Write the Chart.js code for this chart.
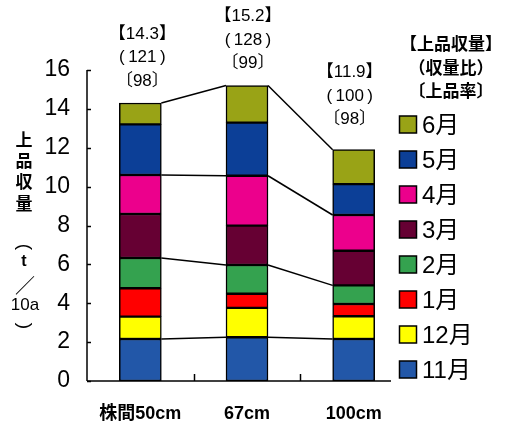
<!DOCTYPE html>
<html>
<head>
<meta charset="utf-8">
<script src="https://cdn.jsdelivr.net/npm/chart.js@4/dist/chart.umd.min.js"></script>
<style>
  html, body { margin: 0; padding: 0; background: #fff; }
  canvas { display: block; }
</style>
</head>
<body>
<canvas id="chart" width="508" height="425"></canvas>
<script>
// Plant spacing categories
const spacings = ['株間50cm', '67cm', '100cm'];

// Monthly top-grade yield (t/10a), stacked from November (bottom) to June (top)
const months = ['11月', '12月', '1月', '2月', '3月', '4月', '5月', '6月'];
const nov = [2.16, 2.25, 2.16];
const dec = [1.15, 1.51, 1.17];
const jan = [1.46, 0.73, 0.63];
const feb = [1.56, 1.48, 0.96];
const mar = [2.26, 2.02, 1.78];
const apr = [2.01, 2.57, 1.84];
const may = [2.60, 2.73, 1.59];
const jun = [1.10, 1.91, 1.77];

// Yield ratio (100 = 100cm spacing) and top-grade rate (%)
const yieldRatio = [121, 128, 100];
const topGradeRate = [98, 99, 98];

// Y axis ticks
const yTicks = [0, 2, 4, 6, 8, 10, 12, 14, 16];

// Cumulative levels joined between bars (top of 11月, 2月, 4月, 6月)
const joinedMonths = ['11月', '2月', '4月', '6月'];

const series = [nov, dec, jan, feb, mar, apr, may, jun];
const colors = ['#2257a8', '#ffff00', '#ff0000', '#34a24f', '#660033', '#ec008c', '#0c3f97', '#99a316'];

const SANS = '"Liberation Sans", "Noto Sans CJK JP", sans-serif';
const JP = '"Noto Sans CJK JP", sans-serif';

const datasets = months.map((m, i) => ({
  label: m,
  data: series[i],
  backgroundColor: colors[i],
  borderColor: '#000',
  borderWidth: 1.5,
  borderSkipped: false,
  barThickness: 42,
  stack: 's'
}));

// Lines joining stacked levels between neighbouring bars
const joinLines = {
  id: 'joinLines',
  afterDatasetsDraw(chart) {
    const ctx = chart.ctx;
    ctx.save();
    ctx.strokeStyle = '#000';
    ctx.lineWidth = 1.5;
    joinedMonths.forEach(m => {
      const idx = months.indexOf(m);
      const els = chart.getDatasetMeta(idx).data;
      for (let i = 0; i < els.length - 1; i++) {
        const a = els[i], b = els[i + 1];
        ctx.beginPath();
        ctx.moveTo(a.x + a.width / 2, a.y);
        ctx.lineTo(b.x - b.width / 2, b.y);
        ctx.stroke();
      }
    });
    ctx.restore();
  }
};

// Three-line annotation above each bar: 【total】 (ratio) 〔rate〕
const noteGap = 22;
const noteStep = 23.5;
const noteLift = [0, 0, 8];
const noteShift = [2, 1, -4];
const barNotes = {
  id: 'barNotes',
  afterDatasetsDraw(chart) {
    const ctx = chart.ctx;
    const yScale = chart.scales.y;
    const xScale = chart.scales.x;
    ctx.save();
    ctx.fillStyle = '#000';
    ctx.font = '17px ' + SANS;
    ctx.textAlign = 'center';
    ctx.textBaseline = 'middle';
    spacings.forEach((s, i) => {
      const total = series.reduce((acc, arr) => acc + arr[i], 0);
      const x = xScale.getPixelForValue(i) + noteShift[i];
      const yBottom = yScale.getPixelForValue(total) - noteGap - noteLift[i];
      const lines = ['【' + total.toFixed(1) + '】', '(\u2009' + yieldRatio[i] + '\u2009)', '〔' + topGradeRate[i] + '〕'];
      lines.forEach((t, k) => {
        ctx.fillText(t, x, yBottom - (lines.length - 1 - k) * noteStep);
      });
    });
    ctx.restore();
  }
};

// Axis lines with inward tick marks, vertical axis title and legend
const frame = {
  id: 'frame',
  afterDraw(chart) {
    const ctx = chart.ctx;
    const { left, right, top, bottom } = chart.chartArea;
    const xScale = chart.scales.x;
    const yScale = chart.scales.y;
    ctx.save();
    ctx.strokeStyle = '#000';
    ctx.lineWidth = 1.5;
    // y axis
    ctx.beginPath();
    ctx.moveTo(left, top);
    ctx.lineTo(left, bottom);
    ctx.stroke();
    yTicks.forEach(v => {
      const y = Math.round(yScale.getPixelForValue(v)) + 0.5;
      ctx.beginPath();
      ctx.moveTo(left, y);
      ctx.lineTo(left + 4, y);
      ctx.stroke();
    });
    // x axis
    ctx.beginPath();
    ctx.moveTo(left, bottom);
    ctx.lineTo(right - 16, bottom);
    ctx.stroke();
    for (let i = 0; i < spacings.length - 1; i++) {
      const x = Math.round((xScale.getPixelForValue(i) + xScale.getPixelForValue(i + 1)) / 2) + 0.5;
      ctx.beginPath();
      ctx.moveTo(x, bottom);
      ctx.lineTo(x, bottom - 7);
      ctx.stroke();
    }

    // vertical y-axis title: 上品収量（t／10a）
    ctx.fillStyle = '#000';
    ctx.textAlign = 'center';
    ctx.textBaseline = 'middle';
    const tx = 24;
    ctx.font = 'bold 17px ' + JP;
    [['上', 140], ['品', 161], ['収', 182], ['量', 204]].forEach(([t, y]) => ctx.fillText(t, tx, y));
    // brackets turned for vertical writing
    ctx.font = '19px ' + SANS;
    [['(', 247], [')', 326]].forEach(([t, y]) => {
      ctx.save();
      ctx.translate(tx, y);
      ctx.rotate(Math.PI / 2);
      ctx.fillText(t, 0, 0);
      ctx.restore();
    });
    ctx.font = 'bold 16px ' + SANS;
    ctx.fillText('t', tx, 262);
    ctx.font = '20px ' + JP;
    ctx.fillText('／', tx + 1, 285);
    ctx.font = '17px ' + SANS;
    ctx.fillText('10a', tx + 1, 305);

    // legend heading
    const lx = 451;
    ctx.font = 'bold 17px ' + JP;
    ['【上品収量】', '（収量比）', '〔上品率〕'].forEach((t, k) => {
      ctx.fillText(t, lx, 44 + k * 23.5);
    });

    // legend items, June at top
    ctx.textAlign = 'left';
    ctx.font = '24px ' + SANS;
    for (let k = 0; k < months.length; k++) {
      const i = months.length - 1 - k;
      const cy = 125 + k * 35;
      ctx.fillStyle = colors[i];
      ctx.fillRect(399.5, cy - 9, 17, 17);
      ctx.lineWidth = 1.5;
      ctx.strokeRect(399.5, cy - 9, 17, 17);
      ctx.fillStyle = '#000';
      ctx.fillText(months[i], 422, cy + 1);
    }
    ctx.restore();
  }
};

new Chart(document.getElementById('chart'), {
  type: 'bar',
  data: { labels: spacings, datasets },
  options: {
    responsive: false,
    animation: false,
    devicePixelRatio: 1,
    layout: { padding: { left: 20, right: 101, top: 70, bottom: 0 } },
    plugins: {
      legend: { display: false },
      tooltip: { enabled: false }
    },
    scales: {
      x: {
        stacked: true,
        grid: { display: false, drawTicks: false },
        border: { display: false },
        ticks: { color: '#000', font: { family: SANS, size: 18, weight: 'bold' }, padding: 22 },
        afterFit(s) { s.height = 44; }
      },
      y: {
        stacked: true,
        min: 0,
        max: 16,
        afterBuildTicks(s) { s.ticks = yTicks.map(v => ({ value: v })); },
        grid: { display: false, drawTicks: false },
        border: { display: false },
        ticks: { color: '#000', font: { family: SANS, size: 23 }, padding: 17 },
        afterFit(s) { s.width = 67; }
      }
    }
  },
  plugins: [joinLines, barNotes, frame]
});
</script>
</body>
</html>
